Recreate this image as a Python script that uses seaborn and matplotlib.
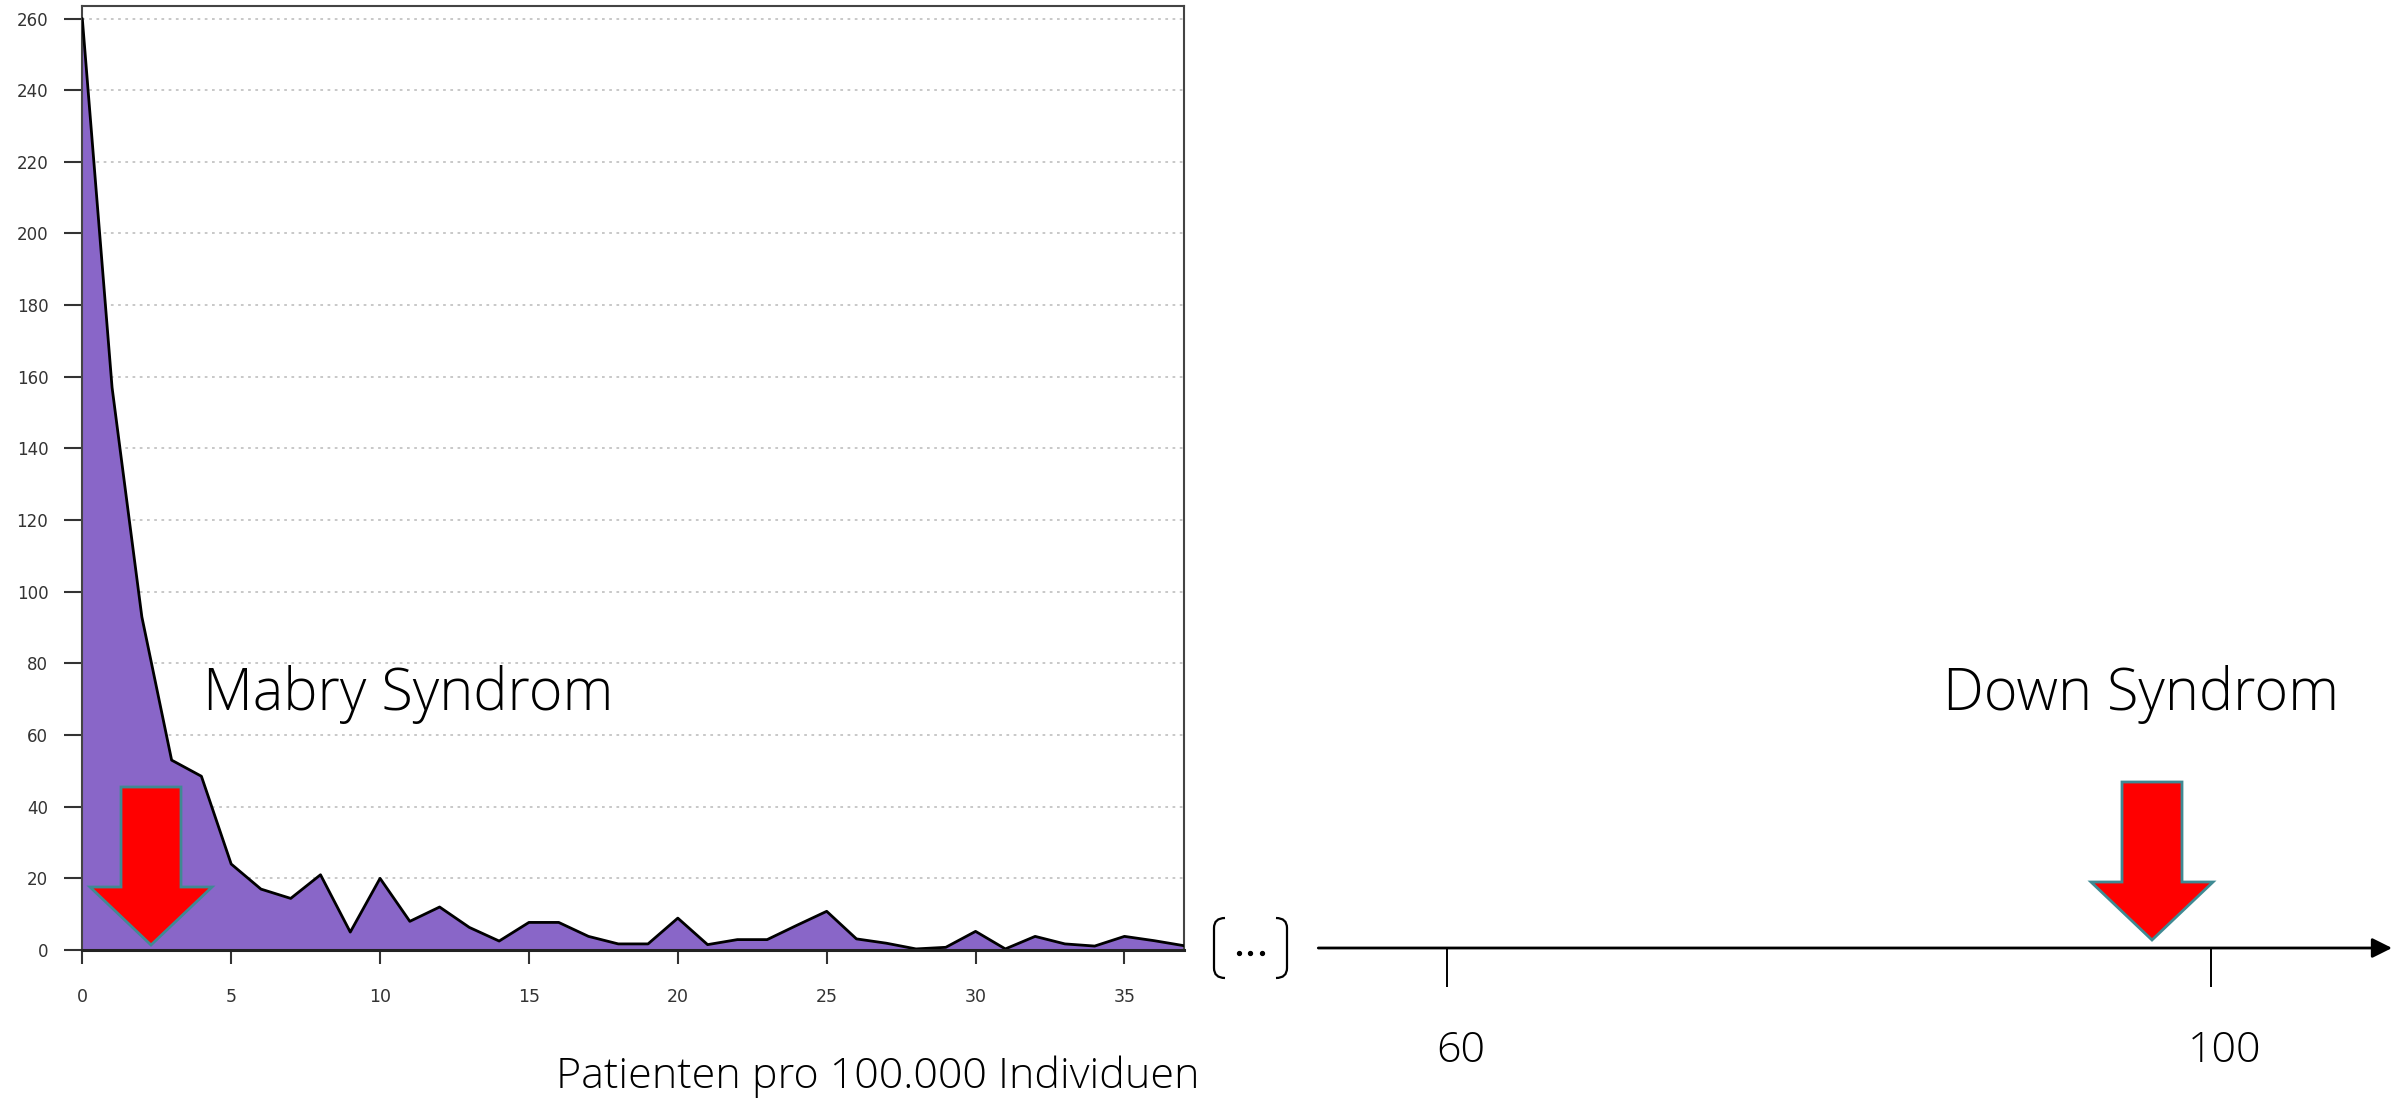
import numpy as np
import pandas as pd
import seaborn as sns
import matplotlib.pyplot as plt
from matplotlib.patches import Polygon, PathPatch
from matplotlib.path import Path
from matplotlib.transforms import ScaledTranslation

# Werte
patienten = list(range(38))
anzahl = [260, 157, 93, 53, 48.5, 24, 17, 14.4, 21, 5, 20, 8, 12, 6.3, 2.5,
          7.7, 7.7, 3.8, 1.7, 1.7, 8.9, 1.5, 2.9, 2.9, 6.9, 10.8, 3.1, 1.9,
          0.3, 0.75, 5.2, 0.3, 3.8, 1.7, 1.1, 3.8, 2.6, 1.2]
y_ticks = list(range(0, 261, 20))
x_ticks = list(range(0, 36, 5))
skala_ticks = [60, 100]
skala_labels = ['60', '100']

df = pd.DataFrame({'patienten': patienten, 'anzahl': anzahl})

W, H = 2397, 1098
sns.set_style('white')
plt.rcParams['font.family'] = ['Open Sans', 'DejaVu Sans']

fig = plt.figure(figsize=(W / 100, H / 100), dpi=100)

# linkes Diagramm (Verteilung)
ax = fig.add_axes([82.3 / W, (H - 950) / H, (1184 - 82.3) / W, (950 - 6) / H])
ax.fill_between(df['patienten'], df['anzahl'], color='#8966c8', zorder=2, lw=0)
sns.lineplot(data=df, x='patienten', y='anzahl', ax=ax, color='black', lw=2, zorder=3)
ax.set_xlim(0, 37)
ax.set_ylim(0, 263.5)
ax.set_yticks(y_ticks)
ax.set_xticks(x_ticks)
ax.set_xlabel('')
ax.set_ylabel('')
ax.yaxis.grid(True, linestyle=(0, (1.5, 2.5)), color='#c4c4c4', lw=1.3)
ax.set_axisbelow(True)
for s in ['left', 'top', 'right']:
    ax.spines[s].set_color('#444444')
    ax.spines[s].set_linewidth(1.5)
ax.spines['bottom'].set_color('#222222')
ax.spines['bottom'].set_linewidth(2.2)
ax.spines['bottom'].set_zorder(4)
ax.tick_params(axis='y', direction='out', length=13, width=1.5, color='#333333',
               pad=11.5, labelsize=12, labelcolor='#333333', left=True)
ax.tick_params(axis='x', direction='out', length=10, width=1.5, color='#333333',
               pad=17, labelsize=12.5, labelcolor='#333333', bottom=True)
for lbl in ax.get_xticklabels() + ax.get_yticklabels():
    lbl.set_family('DejaVu Sans')

# rechte Skala
ax2 = fig.add_axes([1318.3 / W, (H - 948) / H, (2392 - 1318.3) / W, 0.2])
ax2.set_xlim(53.28, 109.49)
ax2.set_ylim(0, 1)
ax2.patch.set_alpha(0)
for s in ax2.spines.values():
    s.set_visible(False)
ax2.set_yticks([])
ax2.set_xticks(skala_ticks)
ax2.set_xticklabels(skala_labels)
ax2.tick_params(axis='x', direction='out', length=28, width=1.4, color='black',
                pad=31, labelsize=31, labelcolor='black', bottom=True)
for lbl in ax2.get_xticklabels():
    lbl.set_fontweight('light')
    lbl.set_transform(lbl.get_transform() + ScaledTranslation(0.14, 0, fig.dpi_scale_trans))
ax2.annotate('', xy=(1, 0), xytext=(0, 0), xycoords='axes fraction',
             arrowprops=dict(arrowstyle='-|>,head_length=0.6,head_width=0.3',
                             color='black', lw=2, mutation_scale=20,
                             shrinkA=0, shrinkB=0))

# Overlay für Pfeile, Klammern und Texte (Pixelkoordinaten)
ov = fig.add_axes([0, 0, 1, 1])
ov.set_xlim(0, W)
ov.set_ylim(H, 0)
ov.axis('off')
ov.patch.set_alpha(0)


def pfeil(tip_x, tip_y):
    pts = [(tip_x - 30, tip_y - 158), (tip_x + 30, tip_y - 158),
           (tip_x + 30, tip_y - 58), (tip_x + 61, tip_y - 58),
           (tip_x, tip_y), (tip_x - 61, tip_y - 58), (tip_x - 30, tip_y - 58)]
    ov.add_patch(Polygon(pts, closed=True, facecolor='#ff0000',
                         edgecolor='#3f8a93', lw=2, zorder=5))


pfeil(151, 945)
pfeil(2152, 940)


def klammer(x, oben, unten, richtung):
    r = 11 * richtung
    verts = [(x + r, oben), (x, oben), (x, oben + 10), (x, unten - 10),
             (x, unten), (x + r, unten)]
    codes = [Path.MOVETO, Path.CURVE3, Path.CURVE3, Path.LINETO,
             Path.CURVE3, Path.CURVE3]
    ov.add_patch(PathPatch(Path(verts, codes), facecolor='none',
                           edgecolor='black', lw=1.6))


klammer(1214, 918, 978, 1)
klammer(1287, 918, 978, -1)
ov.plot([1238.7, 1250, 1261.7], [952.7] * 3, 'o', ms=2.8, color='black')

ov.text(203, 710, 'Mabry Syndrom', fontsize=41.5, fontweight='light',
        ha='left', va='baseline', color='black')
ov.text(1943, 710, 'Down Syndrom', fontsize=41.5, fontweight='light',
        ha='left', va='baseline', color='black')
ov.text(556, 1088, 'Patienten pro 100.000 Individuen', fontsize=31,
        fontweight='light', ha='left', va='baseline', color='black')

fig.savefig('out.png', dpi=100)
